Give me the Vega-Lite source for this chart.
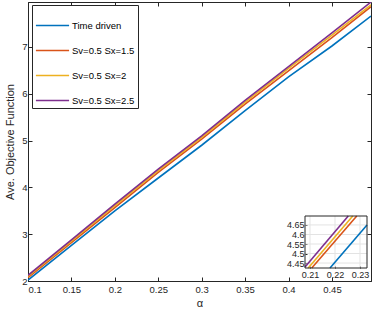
{
  "$schema": "https://vega.github.io/schema/vega-lite/v6.json",
  "width": 343,
  "height": 279,
  "autosize": {"type": "none"},
  "padding": {"left": 28, "top": 2, "right": 1, "bottom": 31},
  "background": "white",
  "config": {
    "font": "Liberation Sans",
    "view": {"stroke": "#262626", "strokeWidth": 1},
    "axis": {
      "domainColor": "#262626",
      "tickColor": "#262626",
      "labelColor": "#262626",
      "titleColor": "#262626",
      "grid": false,
      "labelFont": "Liberation Sans",
      "titleFont": "Liberation Sans",
      "titleFontWeight": "normal"
    }
  },
  "datasets": {
    "main": [
      {"alpha": 0.1, "value": 2.02, "series": "Time driven"},
      {"alpha": 0.15, "value": 2.76, "series": "Time driven"},
      {"alpha": 0.2, "value": 3.5, "series": "Time driven"},
      {"alpha": 0.25, "value": 4.2, "series": "Time driven"},
      {"alpha": 0.3, "value": 4.9, "series": "Time driven"},
      {"alpha": 0.35, "value": 5.64, "series": "Time driven"},
      {"alpha": 0.4, "value": 6.36, "series": "Time driven"},
      {"alpha": 0.45, "value": 7.02, "series": "Time driven"},
      {"alpha": 0.495, "value": 7.66, "series": "Time driven"},
      {"alpha": 0.1, "value": 2.07, "series": "Sv=0.5 Sx=1.5"},
      {"alpha": 0.15, "value": 2.82, "series": "Sv=0.5 Sx=1.5"},
      {"alpha": 0.2, "value": 3.57, "series": "Sv=0.5 Sx=1.5"},
      {"alpha": 0.25, "value": 4.32, "series": "Sv=0.5 Sx=1.5"},
      {"alpha": 0.3, "value": 5.03, "series": "Sv=0.5 Sx=1.5"},
      {"alpha": 0.35, "value": 5.78, "series": "Sv=0.5 Sx=1.5"},
      {"alpha": 0.4, "value": 6.49, "series": "Sv=0.5 Sx=1.5"},
      {"alpha": 0.45, "value": 7.2, "series": "Sv=0.5 Sx=1.5"},
      {"alpha": 0.495, "value": 7.86, "series": "Sv=0.5 Sx=1.5"},
      {"alpha": 0.1, "value": 2.1, "series": "Sv=0.5 Sx=2"},
      {"alpha": 0.15, "value": 2.85, "series": "Sv=0.5 Sx=2"},
      {"alpha": 0.2, "value": 3.61, "series": "Sv=0.5 Sx=2"},
      {"alpha": 0.25, "value": 4.36, "series": "Sv=0.5 Sx=2"},
      {"alpha": 0.3, "value": 5.07, "series": "Sv=0.5 Sx=2"},
      {"alpha": 0.35, "value": 5.82, "series": "Sv=0.5 Sx=2"},
      {"alpha": 0.4, "value": 6.54, "series": "Sv=0.5 Sx=2"},
      {"alpha": 0.45, "value": 7.25, "series": "Sv=0.5 Sx=2"},
      {"alpha": 0.495, "value": 7.9, "series": "Sv=0.5 Sx=2"},
      {"alpha": 0.1, "value": 2.12, "series": "Sv=0.5 Sx=2.5"},
      {"alpha": 0.15, "value": 2.88, "series": "Sv=0.5 Sx=2.5"},
      {"alpha": 0.2, "value": 3.64, "series": "Sv=0.5 Sx=2.5"},
      {"alpha": 0.25, "value": 4.39, "series": "Sv=0.5 Sx=2.5"},
      {"alpha": 0.3, "value": 5.1, "series": "Sv=0.5 Sx=2.5"},
      {"alpha": 0.35, "value": 5.86, "series": "Sv=0.5 Sx=2.5"},
      {"alpha": 0.4, "value": 6.58, "series": "Sv=0.5 Sx=2.5"},
      {"alpha": 0.45, "value": 7.3, "series": "Sv=0.5 Sx=2.5"},
      {"alpha": 0.495, "value": 7.96, "series": "Sv=0.5 Sx=2.5"}
    ],
    "inset": [
      {"alpha": 0.218, "value": 4.424, "series": "Time driven"},
      {"alpha": 0.2328, "value": 4.65, "series": "Time driven"},
      {"alpha": 0.2107, "value": 4.424, "series": "Sv=0.5 Sx=1.5"},
      {"alpha": 0.2287, "value": 4.697, "series": "Sv=0.5 Sx=1.5"},
      {"alpha": 0.2093, "value": 4.424, "series": "Sv=0.5 Sx=2"},
      {"alpha": 0.2271, "value": 4.697, "series": "Sv=0.5 Sx=2"},
      {"alpha": 0.208, "value": 4.429, "series": "Sv=0.5 Sx=2.5"},
      {"alpha": 0.2253, "value": 4.697, "series": "Sv=0.5 Sx=2.5"}
    ],
    "insetGridX": [{"g": 0.21}, {"g": 0.22}, {"g": 0.23}],
    "insetGridY": [{"g": 4.45}, {"g": 4.5}, {"g": 4.55}, {"g": 4.6}, {"g": 4.65}]
  },
  "layer": [
    {
      "data": {"name": "main"},
      "mark": {"type": "line", "strokeWidth": 1.6, "clip": true},
      "encoding": {
        "x": {
          "field": "alpha", "type": "quantitative",
          "scale": {"domain": [0.1, 0.495], "nice": false, "zero": false},
          "axis": {
            "title": "α", "values": [0.1, 0.15, 0.2, 0.25, 0.3, 0.35, 0.4, 0.45],
            "format": "~g", "tickSize": -4, "labelPadding": 7, "labelFontSize": 9.5,
            "titleFontSize": 11, "titlePadding": 4
          }
        },
        "y": {
          "field": "value", "type": "quantitative",
          "scale": {"domain": [2, 7.96], "nice": false, "zero": false},
          "axis": {
            "title": "Ave. Objective Function", "values": [2, 3, 4, 5, 6, 7],
            "tickSize": -4, "labelPadding": 5, "labelFontSize": 9.5,
            "titleFontSize": 11, "titlePadding": 6
          }
        },
        "color": {
          "field": "series", "type": "nominal",
          "scale": {
            "domain": ["Time driven", "Sv=0.5 Sx=1.5", "Sv=0.5 Sx=2", "Sv=0.5 Sx=2.5"],
            "range": ["#0072BD", "#D95319", "#EDB120", "#7E2F8E"]
          },
          "legend": {
            "orient": "none", "legendX": 4, "legendY": 3, "title": null,
            "symbolType": "stroke", "symbolSize": 1100, "symbolStrokeWidth": 1.5,
            "labelFontSize": 9.5, "labelColor": "#000000", "labelOffset": 2,
            "strokeColor": "#262626", "fillColor": "white", "padding": 3, "rowPadding": 3
          }
        }
      }
    },
    {
      "data": {"name": "main"},
      "mark": {"type": "line", "opacity": 0},
      "encoding": {
        "x": {
          "field": "alpha", "type": "quantitative",
          "scale": {"domain": [0.1, 0.495], "nice": false, "zero": false},
          "axis": {"orient": "top", "title": null, "labels": false, "domain": false,
                   "values": [0.1, 0.15, 0.2, 0.25, 0.3, 0.35, 0.4, 0.45], "tickSize": -4}
        },
        "y": {
          "field": "value", "type": "quantitative",
          "scale": {"domain": [2, 7.96], "nice": false, "zero": false},
          "axis": {"orient": "right", "title": null, "labels": false, "domain": false,
                   "values": [2, 3, 4, 5, 6, 7], "tickSize": -4}
        }
      }
    },
    {
      "layer": [
        {
          "data": {"name": "insetGridX"},
          "mark": {"type": "rule", "color": "#e3e3e3", "strokeWidth": 1},
          "encoding": {
            "x": {"field": "g", "type": "quantitative"},
            "y": {"datum": 4.424, "type": "quantitative"},
            "y2": {"datum": 4.697}
          }
        },
        {
          "data": {"name": "insetGridY"},
          "mark": {"type": "rule", "color": "#e3e3e3", "strokeWidth": 1},
          "encoding": {
            "y": {"field": "g", "type": "quantitative"},
            "x": {"datum": 0.208, "type": "quantitative"},
            "x2": {"datum": 0.2328}
          }
        },
        {
          "data": {"name": "inset"},
          "mark": {"type": "line", "strokeWidth": 1.6},
          "encoding": {
            "x": {
              "field": "alpha", "type": "quantitative",
              "scale": {"domain": [0.208, 0.2328], "range": [277, 339], "nice": false, "zero": false},
              "axis": {
                "orient": "bottom", "offset": -13, "title": null, "values": [0.21, 0.22, 0.23],
                "format": "~g", "tickSize": -2, "labelPadding": 4, "labelFontSize": 9,
                "domain": false, "grid": false
              }
            },
            "y": {
              "field": "value", "type": "quantitative",
              "scale": {"domain": [4.424, 4.697], "range": [266, 214], "nice": false, "zero": false},
              "axis": {
                "orient": "left", "offset": -277, "title": null,
                "values": [4.45, 4.5, 4.55, 4.6, 4.65], "format": "~g",
                "tickSize": -2, "labelPadding": 3, "labelFontSize": 9,
                "domain": false, "grid": false
              }
            },
            "color": {"field": "series", "type": "nominal", "legend": null}
          }
        },
        {
          "data": {"values": [{}]},
          "mark": {"type": "rect", "fill": null, "stroke": "#262626", "strokeWidth": 1},
          "encoding": {
            "x": {"datum": 0.208, "type": "quantitative"},
            "x2": {"datum": 0.2328},
            "y": {"datum": 4.424, "type": "quantitative"},
            "y2": {"datum": 4.697}
          }
        }
      ]
    }
  ],
  "resolve": {"scale": {"x": "independent", "y": "independent"}}
}
